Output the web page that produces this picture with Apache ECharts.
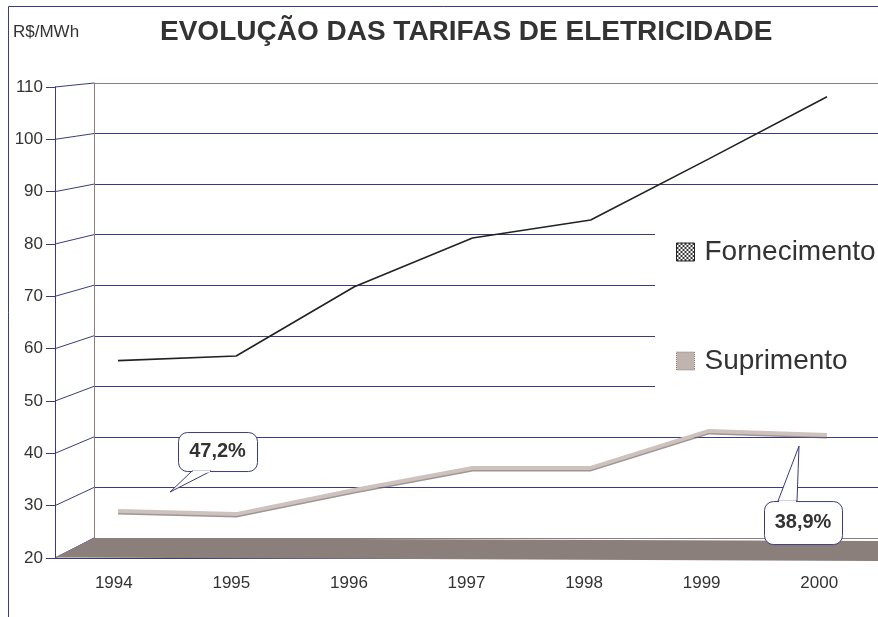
<!DOCTYPE html>
<html>
<head>
<meta charset="utf-8">
<title>Evolução das tarifas de eletricidade</title>
<script src="https://cdn.jsdelivr.net/npm/echarts@6/dist/echarts.min.js"></script>
<style>
  html, body { margin: 0; padding: 0; background: #fff; }
  #chart { width: 878px; height: 617px; }
</style>
</head>
<body>
<div id="chart"></div>
<script>
// dados (R$/MWh)
const anos = ['1994', '1995', '1996', '1997', '1998', '1999', '2000']
const fornecimento = [56.5, 57.4, 70.9, 80.4, 83.9, 95.8, 107.9]
const suprimento = [27.2, 26.6, 31.3, 35.6, 35.6, 42.8, 42.0]
const eixoY = [20, 110, 10]            // min, max, intervalo
const chamadas = ['47,2%', '38,9%']    // suprimento / fornecimento em 1994 e 2000

const FONT = 'Liberation Sans, Arial, sans-serif'
const navy = '#3b3b7a'
const wall = '#8b7f7b'
const [yMin, yMax, yStep] = eixoY

// cores das linhas de grade do fundo (a de cima é cinza como a parede)
const gridColors = []
for (let v = yMin; v <= yMax; v += yStep) {
  gridColors.push(v === yMin || v === yMax ? wall : navy)
}

// ícone xadrez da legenda
const cv = document.createElement('canvas')
cv.width = 4; cv.height = 4
const cx = cv.getContext('2d')
cx.fillStyle = '#fff'; cx.fillRect(0, 0, 4, 4)
cx.fillStyle = '#333'; cx.fillRect(0, 0, 2, 2); cx.fillRect(2, 2, 2, 2)
const xadrez = { image: cv, repeat: 'repeat' }

const chart = echarts.init(document.getElementById('chart'))

chart.setOption({
  animation: false,
  backgroundColor: '#fff',
  textStyle: { fontFamily: FONT },
  title: [
    {
      text: 'EVOLUÇÃO DAS TARIFAS DE ELETRICIDADE',
      left: 160, top: 18, padding: 0,
      textStyle: { fontSize: 28, fontWeight: 'bold', color: '#333', fontFamily: FONT }
    },
    {
      text: 'R$/MWh',
      left: 13, top: 24, padding: 0,
      textStyle: { fontSize: 17, fontWeight: 'normal', color: '#333', fontFamily: FONT }
    }
  ],
  legend: {
    orient: 'vertical',
    left: 655, top: 200,
    padding: [38, 10, 45, 21],
    backgroundColor: '#fff',
    icon: 'rect',
    itemWidth: 18, itemHeight: 18, itemGap: 81,
    textStyle: { fontSize: 28, lineHeight: 28, color: '#333', fontFamily: FONT, padding: [0, 0, 0, 5] },
    data: [
      { name: 'Fornecimento', itemStyle: { color: xadrez, borderColor: '#222', borderWidth: 1 } },
      { name: 'Suprimento', itemStyle: { color: '#c0b4b0', borderColor: wall, borderWidth: 1, borderType: 'dotted' } }
    ]
  },
  grid: [
    // frente (eixos com rótulos)
    { left: 55, top: 87, right: 0, height: 471 },
    // parede do fundo
    { left: 94, top: 83, right: 0, height: 455 },
    // plano das séries (pontos no meio da profundidade)
    { left: 118, top: 86, right: 51, height: 462 }
  ],
  xAxis: [
    {
      gridIndex: 0, type: 'category', data: anos, boundaryGap: true,
      axisLine: { lineStyle: { color: navy, width: 1 } },
      axisTick: { length: 8, lineStyle: { color: navy } },
      axisLabel: { fontSize: 17, color: '#333', margin: 17, fontFamily: FONT },
      splitLine: { show: false }
    },
    { gridIndex: 1, type: 'category', data: anos, show: false },
    { gridIndex: 2, type: 'category', data: anos, boundaryGap: false, show: false }
  ],
  yAxis: [
    {
      gridIndex: 0, type: 'value', min: yMin, max: yMax, interval: yStep,
      axisLine: { show: true, lineStyle: { color: navy, width: 1 } },
      axisTick: { show: true, length: 9, lineStyle: { color: navy } },
      axisLabel: { fontSize: 17, color: '#333', margin: 12, fontFamily: FONT },
      splitLine: { show: false }
    },
    {
      gridIndex: 1, type: 'value', min: yMin, max: yMax, interval: yStep,
      axisLine: { show: true, lineStyle: { color: wall, width: 1 } },
      axisTick: { show: false },
      axisLabel: { show: false },
      splitLine: { show: true, lineStyle: { color: gridColors, width: 1 } }
    },
    { gridIndex: 2, type: 'value', min: yMin, max: yMax, show: false, splitLine: { show: false } }
  ],
  series: [
    {
      name: 'Fornecimento', type: 'line', xAxisIndex: 2, yAxisIndex: 2,
      data: fornecimento, symbol: 'none',
      lineStyle: { color: '#222', width: 1.6 },
      itemStyle: { color: '#222' }
    },
    {
      name: 'Suprimento', type: 'line', xAxisIndex: 2, yAxisIndex: 2,
      data: suprimento, symbol: 'none',
      lineStyle: { color: '#cdc2be', width: 4, shadowColor: 'rgba(120,104,100,0.7)', shadowOffsetY: 1.5 },
      itemStyle: { color: '#c0b4b0' }
    }
  ]
})

const gfx = []

// moldura
gfx.push({
  type: 'rect', z: 0, silent: true,
  shape: { x: 8.5, y: 6.5, width: 900, height: 700 },
  style: { fill: 'none', stroke: navy, lineWidth: 1 }
})

// linhas de profundidade entre eixo da frente e parede do fundo
for (let v = yMin; v <= yMax; v += yStep) {
  const yf = chart.convertToPixel({ yAxisIndex: 0 }, v)
  const yb = chart.convertToPixel({ yAxisIndex: 1 }, v)
  gfx.push({
    type: 'line', z: 1, silent: true,
    shape: { x1: 55, y1: yf, x2: 94, y2: yb },
    style: { stroke: navy, lineWidth: 1 }
  })
}

// piso
const f0 = chart.convertToPixel({ yAxisIndex: 0 }, yMin)
const b0 = chart.convertToPixel({ yAxisIndex: 1 }, yMin)
gfx.push({
  type: 'polygon', z: 1, silent: true,
  shape: { points: [[55, f0 - 0.5], [94, b0], [880, b0 + 3], [880, f0 + 3]] },
  style: { fill: wall }
})

// chamadas (caixa arredondada + rabicho)
const p1 = chart.convertToPixel({ seriesIndex: 1 }, [0, suprimento[0]])
const p2 = chart.convertToPixel({ seriesIndex: 1 }, [6, suprimento[6]])
const caixas = [
  { x: p1[0] + 60, y: p1[1] - 79, w: 79, h: 39, tip: [p1[0] + 52, p1[1] - 19], baixo: true, txt: chamadas[0] },
  { x: p2[0] - 63, y: p2[1] + 66, w: 78, h: 43, tip: [p2[0] - 28, p2[1] + 11], baixo: false, txt: chamadas[1] }
]
caixas.forEach(c => {
  const by = c.baixo ? c.y + c.h : c.y
  const t1 = c.x + 14, t2 = c.x + 33
  gfx.push({
    type: 'rect', z: 10, silent: true,
    shape: { x: c.x + 0.5, y: c.y + 0.5, width: c.w, height: c.h, r: 9 },
    style: { fill: '#fff', stroke: navy, lineWidth: 1 }
  })
  gfx.push({
    type: 'polygon', z: 11, silent: true,
    shape: { points: [[t1, by], c.tip, [t2, by]] },
    style: { fill: '#fff', stroke: navy, lineWidth: 1 }
  })
  gfx.push({
    type: 'line', z: 12, silent: true,
    shape: { x1: t1 + 1, y1: by + 0.5, x2: t2 - 1, y2: by + 0.5 },
    style: { stroke: '#fff', lineWidth: 2 }
  })
  gfx.push({
    type: 'text', z: 13, silent: true,
    x: c.x + c.w / 2, y: c.y + c.h / 2,
    style: {
      text: c.txt, fill: '#333', font: `bold 20px ${FONT}`,
      align: 'center', verticalAlign: 'middle'
    }
  })
})

chart.setOption({ graphic: gfx })
</script>
</body>
</html>
